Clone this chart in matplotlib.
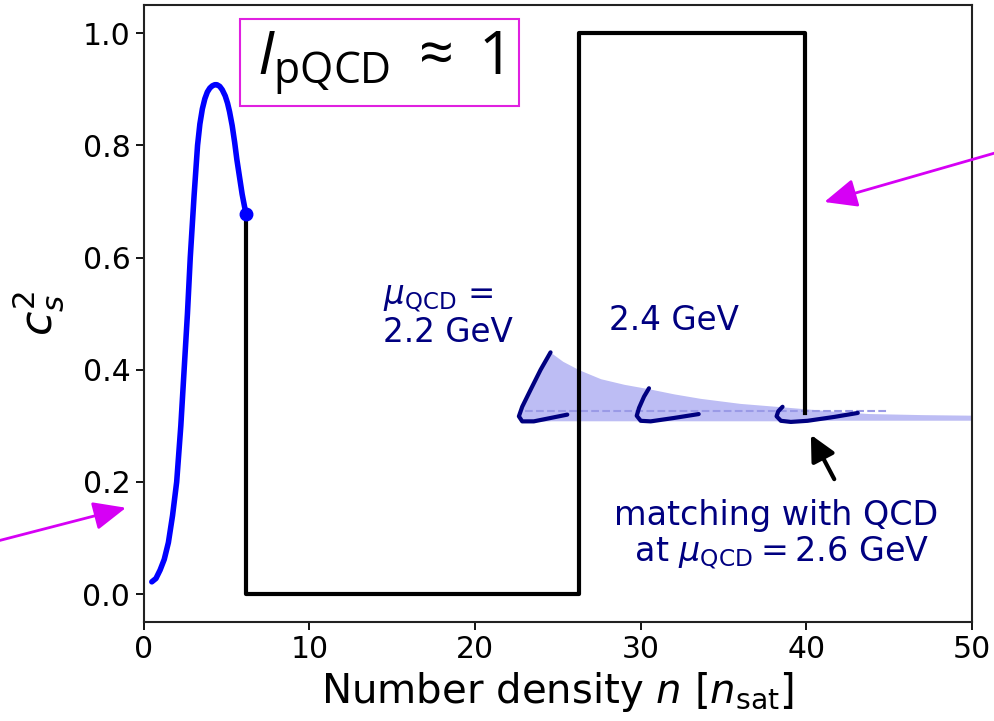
import matplotlib
matplotlib.use("Agg")
import matplotlib.pyplot as plt
from matplotlib.patches import Rectangle

# ---- data ----
cs2_x = [0.5, 0.75, 1.0, 1.25, 1.5, 1.75, 2.0, 2.25, 2.45, 2.65, 2.82, 3.05, 3.26,
         3.4, 3.55, 3.7, 3.85, 4.0, 4.15, 4.3, 4.43, 4.6, 4.75, 4.93, 5.07, 5.19,
         5.35, 5.5, 5.63, 5.8, 5.95, 6.1, 6.2]
cs2_y = [0.022, 0.028, 0.043, 0.062, 0.092, 0.14, 0.2, 0.3, 0.4, 0.5, 0.6, 0.71, 0.8,
         0.838, 0.865, 0.883, 0.895, 0.902, 0.906, 0.908, 0.908, 0.905, 0.899, 0.888,
         0.875, 0.86, 0.835, 0.805, 0.775, 0.742, 0.713, 0.69, 0.677]

step_x = [6.2, 6.2, 26.3, 26.3, 39.9, 39.9]
step_y = [0.677, 0.0, 0.0, 1.0, 1.0, 0.323]

hook1_x = [24.56, 23.96, 23.35, 22.85, 22.65, 22.85, 23.55, 24.56, 25.57]
hook1_y = [0.431, 0.400, 0.364, 0.334, 0.317, 0.308, 0.308, 0.314, 0.320]
hook2_x = [30.5, 30.2, 29.9, 29.76, 30.0, 30.6, 32.0, 33.5]
hook2_y = [0.367, 0.352, 0.332, 0.318, 0.309, 0.308, 0.314, 0.321]
hook3_x = [38.56, 38.3, 38.2, 38.46, 39.06, 40.07, 41.7, 43.1]
hook3_y = [0.334, 0.326, 0.317, 0.309, 0.307, 0.309, 0.316, 0.323]

band_x = [22.65, 22.85, 23.35, 23.96, 24.56, 25.3, 26.27, 27.58, 29.0, 30.5, 32.0,
          33.6, 36.0, 38.5, 41.7, 43.7, 47.0, 50.0]
band_hi = [0.317, 0.334, 0.364, 0.400, 0.431, 0.415, 0.400, 0.384, 0.374, 0.366, 0.357,
           0.349, 0.340, 0.334, 0.326, 0.322, 0.320, 0.319]
band_lo = [0.317, 0.308, 0.308, 0.308, 0.309, 0.309, 0.309, 0.309, 0.309, 0.309, 0.309,
           0.309, 0.309, 0.309, 0.310, 0.310, 0.310, 0.310]

dash_x = [23.0, 45.0]
dash_y = [0.326, 0.326]

box_x0, box_x1 = 5.83, 22.63
box_y0, box_y1 = 0.87, 1.025

plt.rcParams['mathtext.rm'] = 'Open Sans'
plt.rcParams['mathtext.it'] = 'Open Sans:italic'
plt.rcParams['mathtext.bf'] = 'Open Sans:bold'

fig = plt.figure(figsize=(9.94, 7.21), dpi=100)
ax = fig.add_axes([0.1444, 0.137, 0.8336, 0.856])

navy = '#000080'
mag = '#d600f5'

ax.fill_between(band_x, band_lo, band_hi, color='#bdbdf4', lw=0, zorder=1)
ax.plot(dash_x, dash_y, ls='--', color='#9a9ae6', lw=1.5, zorder=1.5)

ax.plot(step_x, step_y, color='black', lw=3, zorder=2)
ax.plot(cs2_x, cs2_y, color='#0000ff', lw=4, zorder=3, solid_capstyle='round',
        solid_joinstyle='round')
ax.plot([cs2_x[-1]], [cs2_y[-1]], 'o', color='#0000ff', ms=9, zorder=4)

for hx, hy in [(hook1_x, hook1_y), (hook2_x, hook2_y), (hook3_x, hook3_y)]:
    ax.plot(hx, hy, color=navy, lw=3, zorder=5, solid_capstyle='round',
            solid_joinstyle='round')

ax.set_xlim(0, 50)
ax.set_ylim(-0.05, 1.05)
ax.set_xticks([0, 10, 20, 30, 40, 50])
ax.set_yticks([0.0, 0.2, 0.4, 0.6, 0.8, 1.0])
ax.set_yticklabels(['0.0', '0.2', '0.4', '0.6', '0.8', '1.0'])
ax.tick_params(labelsize=21.5, length=6, width=1.3)
for s in ax.spines.values():
    s.set_linewidth(1.5)
    s.set_color('#222222')

ax.set_xlabel(r'Number density $n$ [$n_{\rm sat}$]', fontsize=29, labelpad=4)
ax.set_ylabel(r'$c_s^2$', fontsize=32, labelpad=12)

# texts
ax.text(14.47, 0.45, r'$\mu_{\rm QCD}$ =' + '\n2.2 GeV', color=navy, fontsize=23.5,
        ha='left', va='baseline', linespacing=1.05)
ax.text(28.07, 0.471, '2.4 GeV', color=navy, fontsize=23.5, ha='left', va='baseline')
ax.text(38.2, 0.06, 'matching with QCD\n at $\\mu_{\\rm QCD} = 2.6$ GeV', color=navy,
        fontsize=24, ha='center', va='baseline', multialignment='center', linespacing=1.05)

ax.add_patch(Rectangle((box_x0, box_y0), box_x1 - box_x0, box_y1 - box_y0,
                       fc='white', ec='#e020e0', lw=1.5, zorder=6))
ax.text((box_x0 + box_x1) / 2, (box_y0 + box_y1) / 2 - 0.002,
        r'$I_{\rm pQCD}\;\approx\;1$', fontsize=44, ha='center',
        va='center', math_fontfamily='custom', zorder=7)

# arrows
ax.annotate('', xy=(40.27, 0.284), xytext=(41.68, 0.205),
            arrowprops=dict(arrowstyle='-|>,head_length=0.7,head_width=0.35',
                            mutation_scale=22, color='black', lw=3,
                            shrinkA=0, shrinkB=0))
ax.annotate('', xy=(-1.06, 0.154), xytext=(-9.3, 0.091), annotation_clip=False,
            arrowprops=dict(arrowstyle='-|>,head_length=0.8,head_width=0.35',
                            mutation_scale=25, color=mag, lw=2,
                            shrinkA=0, shrinkB=0))
ax.annotate('', xy=(41.08, 0.699), xytext=(52.4, 0.795), annotation_clip=False,
            arrowprops=dict(arrowstyle='-|>,head_length=0.8,head_width=0.35',
                            mutation_scale=25, color=mag, lw=2,
                            shrinkA=0, shrinkB=0))

fig.savefig('out.png', dpi=100)
